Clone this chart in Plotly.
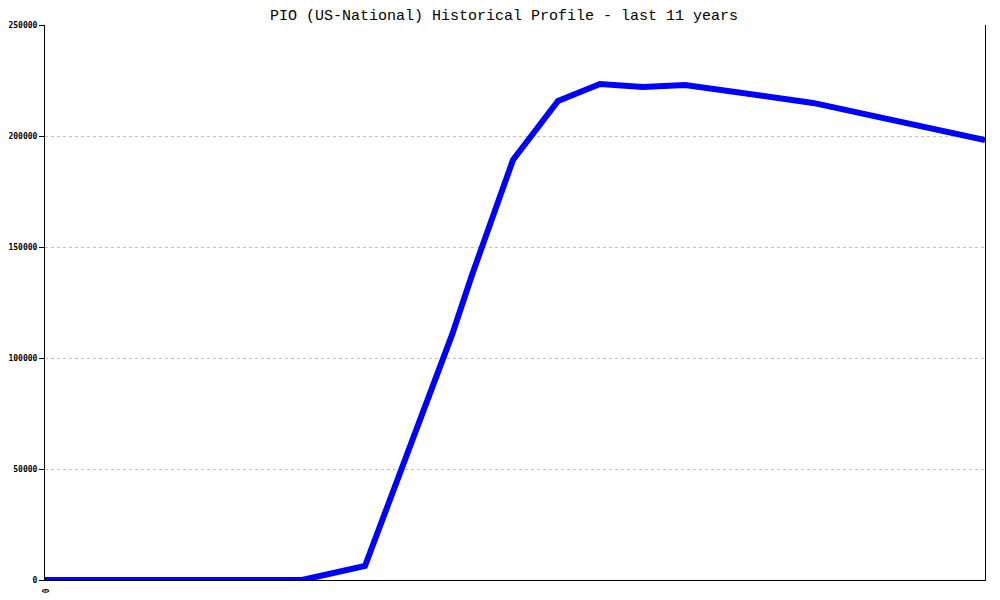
import plotly.graph_objects as go

# x positions (relative time units across the 11-year window), y values
x_vals = [0, 257, 320, 407, 427, 468, 513, 555, 598, 640, 768, 940]
y_vals = [0, 0, 6300, 110400, 137400, 189200, 215800, 223400, 222100, 223000, 214900, 198200]

y_ticks = [0, 50000, 100000, 150000, 200000, 250000]
title_text = "PIO (US-National) Historical Profile - last 11 years"

fig = go.Figure()
fig.add_trace(go.Scatter(
    x=x_vals, y=y_vals, mode="lines",
    line=dict(color="#0000ff", width=6),
    hoverinfo="skip", showlegend=False,
))

# page body has an 8px margin, so the figure is sized/margined to compensate
fig.update_layout(
    width=992, height=592,
    margin=dict(l=37, r=15, t=17, b=20, autoexpand=False),
    paper_bgcolor="white", plot_bgcolor="white",
    title=dict(text=title_text, x=0.5, xanchor="center", y=0.988, yanchor="middle",
               font=dict(family="Liberation Mono, Courier New, monospace", size=15, color="black")),
    showlegend=False,
)
fig.update_xaxes(
    range=[0, 940], showgrid=False, zeroline=False, automargin=False,
    showline=True, linecolor="black", linewidth=1,
    tickmode="array", tickvals=[0], ticktext=["0"], tickangle=90,
    ticks="", ticklabelstandoff=6,
    tickfont=dict(family="DejaVu Sans Mono, monospace", size=8, color="black", weight="bold"),
)
fig.update_yaxes(
    range=[0, 250000], showgrid=True, gridcolor="#c0c0c0", griddash="dot", gridwidth=1,
    zeroline=False, showline=True, linecolor="black", linewidth=1, mirror=True, automargin=False,
    tickmode="array", tickvals=y_ticks, ticktext=[str(v) for v in y_ticks],
    ticks="outside", ticklen=5, tickcolor="black",
    tickfont=dict(family="DejaVu Sans Mono, monospace", size=8, color="black", weight="bold"),
)

fig.write_html("out.html")
